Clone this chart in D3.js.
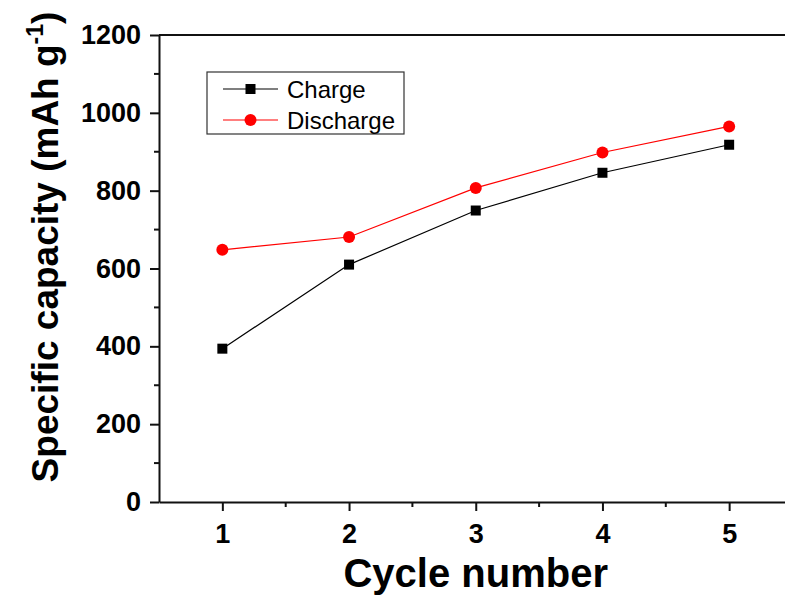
<!DOCTYPE html>
<html lang="en">
<head>
    <meta charset="UTF-8">
    <title>Cycle capacity</title>
    <script src="https://d3js.org/d3.v7.min.js"></script>
    <style>
        body { margin: 0; background: #fff; }
        svg { display: block; }
    </style>
</head>
<body>
    <div id="chart"></div>
    <script>
        const cycles = [1, 2, 3, 4, 5]
        const charge = [394, 610, 749, 846, 918]
        const discharge = [648, 681, 807, 898, 965]
        const yTicks = [0, 200, 400, 600, 800, 1000, 1200]
        const seriesNames = ["Charge", "Discharge"]

        const width = 785
        const height = 599
        const margin = {left: 159, top: 35, bottom: 97}

        const svg = d3.select("#chart").append("svg")
            .attr("width", width)
            .attr("height", height)
            .style("font-family", "Liberation Sans, Arial, sans-serif")

        // x domain goes a bit past the cropped right edge like the original
        const x = d3.scaleLinear().domain([0.5, 5.5]).range([margin.left, margin.left + 633.5])
        const y = d3.scaleLinear().domain([0, 1200]).range([height - margin.bottom, margin.top])

        // top frame line
        svg.append("line")
            .attr("x1", margin.left).attr("x2", width)
            .attr("y1", y(1200)).attr("y2", y(1200))
            .attr("stroke", "#111").attr("stroke-width", 2)

        // x axis
        const xAxis = svg.append("g")
            .attr("transform", `translate(0,${y(0)})`)
            .call(d3.axisBottom(x).tickValues(cycles).tickSize(9).tickSizeOuter(0).tickPadding(13)
                .tickFormat(d3.format("d")))
        xAxis.selectAll(".minor").data([1.5, 2.5, 3.5, 4.5]).enter().append("line")
            .attr("class", "minor")
            .attr("x1", d => x(d)).attr("x2", d => x(d))
            .attr("y1", 0).attr("y2", 5)
            .attr("stroke", "#111").attr("stroke-width", 2)

        // y axis
        const yAxis = svg.append("g")
            .attr("transform", `translate(${margin.left},0)`)
            .call(d3.axisLeft(y).tickValues(yTicks).tickSize(9).tickSizeOuter(0).tickPadding(9)
                .tickFormat(d3.format("d")))
        yAxis.selectAll(".minor").data([100, 300, 500, 700, 900, 1100]).enter().append("line")
            .attr("class", "minor")
            .attr("x1", 0).attr("x2", -5)
            .attr("y1", d => y(d)).attr("y2", d => y(d))
            .attr("stroke", "#111").attr("stroke-width", 2)

        svg.selectAll(".domain").attr("stroke", "#111").attr("stroke-width", 2)
        svg.selectAll(".tick line").attr("stroke", "#111").attr("stroke-width", 2)
        svg.selectAll(".tick text")
            .attr("font-size", 27)
            .attr("font-weight", "bold")
            .attr("fill", "#000")
            .style("font-family", "Liberation Sans, Arial, sans-serif")

        // axis titles
        svg.append("text")
            .attr("x", x(3))
            .attr("y", 587)
            .attr("text-anchor", "middle")
            .attr("font-size", 40)
            .attr("font-weight", "bold")
            .text("Cycle number")

        const yTitle = svg.append("text")
            .attr("transform", `translate(58,247) rotate(-90)`)
            .attr("text-anchor", "middle")
            .attr("font-size", 37)
            .attr("font-weight", "bold")
        yTitle.append("tspan").text("Specific capacity (mAh g")
        yTitle.append("tspan").attr("font-size", 23).attr("dy", -15).text("-1")
        yTitle.append("tspan").attr("dy", 15).text(")")

        // series
        const line = d3.line().x((d, i) => x(cycles[i])).y(d => y(d))

        svg.append("path")
            .attr("d", line(charge))
            .attr("fill", "none").attr("stroke", "#000").attr("stroke-width", 1.2)
        svg.append("path")
            .attr("d", line(discharge))
            .attr("fill", "none").attr("stroke", "#ff0000").attr("stroke-width", 1.2)

        svg.selectAll(".sq").data(charge).enter().append("rect")
            .attr("class", "sq")
            .attr("x", (d, i) => x(cycles[i]) - 5)
            .attr("y", d => y(d) - 5)
            .attr("width", 10).attr("height", 10)
            .attr("fill", "#000")
        svg.selectAll(".dot").data(discharge).enter().append("circle")
            .attr("class", "dot")
            .attr("cx", (d, i) => x(cycles[i]))
            .attr("cy", d => y(d))
            .attr("r", 6)
            .attr("fill", "#ff0000")

        // legend
        const lg = svg.append("g").attr("transform", "translate(207,72)")
        lg.append("rect")
            .attr("width", 197).attr("height", 62)
            .attr("fill", "#fff").attr("stroke", "#333").attr("stroke-width", 1.2)
        const colors = ["#000", "#ff0000"]
        seriesNames.forEach((name, i) => {
            const ly = 17 + i * 31
            lg.append("line")
                .attr("x1", 16).attr("x2", 71)
                .attr("y1", ly).attr("y2", ly)
                .attr("stroke", colors[i]).attr("stroke-width", 1.2)
            if (i === 0) {
                lg.append("rect").attr("x", 38.5).attr("y", ly - 5)
                    .attr("width", 10).attr("height", 10).attr("fill", colors[i])
            } else {
                lg.append("circle").attr("cx", 43.5).attr("cy", ly).attr("r", 6).attr("fill", colors[i])
            }
            lg.append("text")
                .attr("x", 80).attr("y", ly + 8.5)
                .attr("font-size", 24)
                .text(name)
        })
    </script>
</body>
</html>
